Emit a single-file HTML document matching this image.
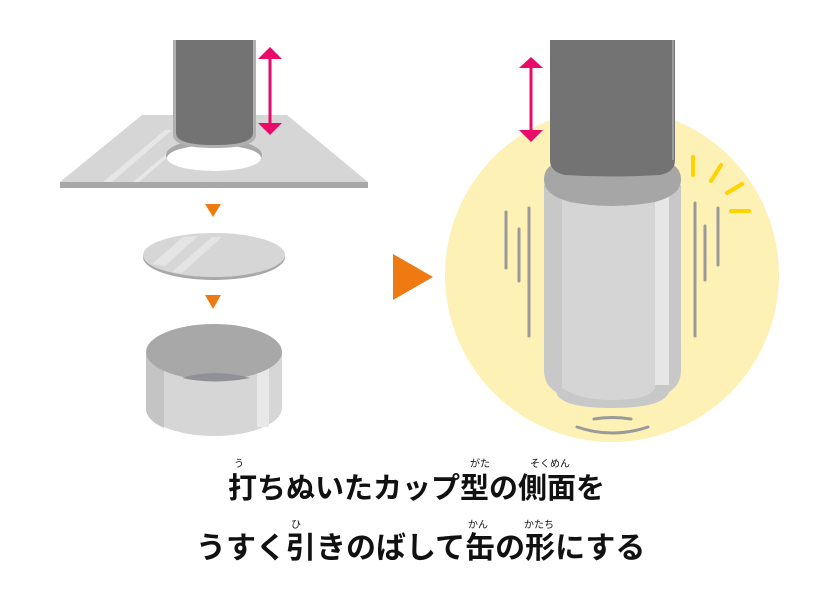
<!DOCTYPE html>
<html><head><meta charset="utf-8"><style>
html,body{margin:0;padding:0;background:#fff;width:840px;height:600px;overflow:hidden;position:relative}
.t{position:absolute;font-family:"Liberation Sans","Noto Sans CJK JP",sans-serif;color:#111;white-space:nowrap;font-weight:bold}
.big{font-size:30px;line-height:30px}
.r{font-size:10px;line-height:10px;font-weight:normal}
</style></head><body>
<svg width="840" height="600" style="position:absolute;left:0;top:0">
<polygon points="142,115 287,115 368,182 60,182" fill="#d6d6d6"/>
<polygon points="60,182 368,182 368,188 60,188" fill="#a8a8a8"/>
<polygon points="103,182 165,130 172,130 112,182" fill="#e6e6e6"/>
<polygon points="133,182 185,138 190,138 139,182" fill="#e6e6e6"/>
<ellipse cx="214" cy="155" rx="48" ry="16" fill="#a8a8a8"/>
<ellipse cx="214" cy="158" rx="47" ry="13" fill="#fff"/>
<path d="M173,40 V135 Q173,148 214,148 Q256,148 256,135 V40 Z" fill="#b0b0b0"/>
<path d="M176,40 V133 Q176,145 214,145 Q253,145 253,133 V40 Z" fill="#737373"/>
<line x1="270" y1="57" x2="270" y2="124" stroke="#ea0a6a" stroke-width="3"/>
<polygon points="258,59 270,47 282,59" fill="#ea0a6a"/>
<polygon points="258,123 270,135 282,123" fill="#ea0a6a"/>
<polygon points="205,204 221,204 213,217" fill="#ef7a12"/>
<polygon points="205,295 221,295 213,309" fill="#ef7a12"/>
<polygon points="393,254 393,300 433,277" fill="#ef7a12"/>
<ellipse cx="214" cy="257" rx="71" ry="23" fill="#a8a8a8"/>
<ellipse cx="214" cy="255" rx="71" ry="22" fill="#d6d6d6"/>
<polygon points="152,264 183,237 198,236 165,266" fill="#e4e4e4"/>
<polygon points="172,272 212,237 222,237 182,273" fill="#e4e4e4"/>
<path d="M146,352 V408 A68,28 0 0 0 282,408 V352 Z" fill="#d6d6d6"/>
<path d="M146,352 V408 A68,28 0 0 0 164,428 V352 Z" fill="#c4c4c4"/>
<rect x="257" y="352" width="12" height="75" fill="#e8e8e8"/>
<ellipse cx="214" cy="352" rx="68" ry="28" fill="#a8a8a8"/>
<path d="M182,378 Q214,368 250,378 Q214,385 182,378 Z" fill="#909097"/>
<circle cx="612" cy="275" r="167" fill="#fdf1b6"/>
<path d="M544,185 V370 Q544,385 556,392 Q560,408 612,408 Q664,408 669,392 Q681,385 681,370 V185 Z" fill="#c8c8c8"/>
<path d="M562,195 V388 Q580,400 612,400 Q650,400 655,388 V195 Z" fill="#d5d5d5"/>
<rect x="655" y="195" width="14" height="190" fill="#e6e6e6"/>
<path d="M544,180 Q544,165 560,162 H665 Q681,165 681,180 Q681,195 655,202 Q612,210 570,202 Q544,195 544,180 Z" fill="#a6a6a6"/>
<path d="M550,40 V160 Q550,172 565,175 Q612,178 660,175 Q675,172 675,160 V40 Z" fill="#737373"/>
<path d="M673,40 V160" stroke="#aaa" stroke-width="1.5"/>
<line x1="531" y1="66" x2="531" y2="132" stroke="#ea0a6a" stroke-width="3"/>
<polygon points="519,68 531,57 543,68" fill="#ea0a6a"/>
<polygon points="519,130 531,142 543,130" fill="#ea0a6a"/>
<g stroke="#9a9a9a" stroke-width="3" stroke-linecap="round">
<line x1="506" y1="212" x2="506" y2="268"/>
<line x1="519" y1="229" x2="519" y2="281"/>
<line x1="529" y1="208" x2="529" y2="336"/>
<line x1="695" y1="203" x2="695" y2="336"/>
<line x1="705" y1="226" x2="705" y2="280"/>
<line x1="718" y1="208" x2="718" y2="265"/>
<path d="M594,419 Q612,416 631,419" fill="none"/>
<path d="M577,427 Q612,439 648,427" fill="none"/>
</g>
<g stroke="#ffd200" stroke-width="4" stroke-linecap="round">
<line x1="693" y1="157" x2="693" y2="175"/>
<line x1="721" y1="165" x2="711" y2="181"/>
<line x1="742" y1="184" x2="727" y2="193"/>
<line x1="731" y1="211" x2="749" y2="211"/>
</g>
</svg>
<div class="t big" style="left:228px;top:474px;font-size:29px">打ちぬいたカップ型の側面を</div>
<div class="t r" style="left:234px;top:460px">う</div>
<div class="t r" style="left:470px;top:460px">がた</div>
<div class="t r" style="left:530px;top:460px">そくめん</div>
<div class="t big" style="left:196px;top:534px">うすく引きのばして缶の形にする</div>
<div class="t r" style="left:291px;top:521px">ひ</div>
<div class="t r" style="left:468px;top:521px">かん</div>
<div class="t r" style="left:524px;top:521px">かたち</div>
</body></html>
